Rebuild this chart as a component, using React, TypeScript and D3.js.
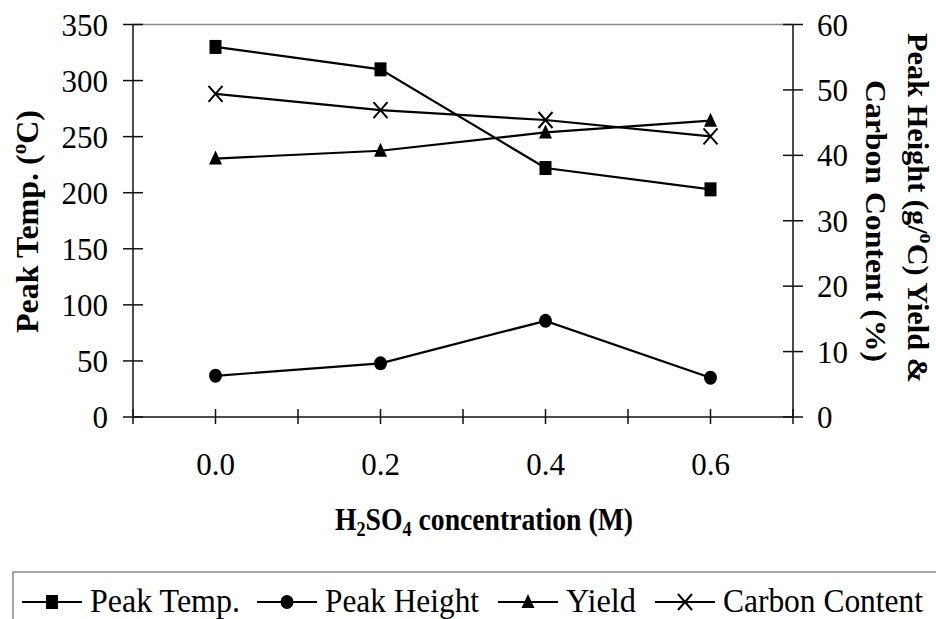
import React, { useEffect, useRef } from "react";
import * as d3 from "d3";

// values
const concentrations = [0.0, 0.2, 0.4, 0.6];
const peakTemp = [330, 310, 222, 203];
const peakHeight = [6.3, 8.2, 14.7, 6.0];
const yieldPct = [39.5, 40.7, 43.5, 45.3];
const carbonContent = [49.4, 46.9, 45.4, 42.9];

const leftTicks = [0, 50, 100, 150, 200, 250, 300, 350];
const rightTicks = [0, 10, 20, 30, 40, 50, 60];
const xTicks = [-0.1, 0, 0.1, 0.2, 0.3, 0.4, 0.5, 0.6, 0.7];
const xLabels = ["0.0", "0.2", "0.4", "0.6"];

const seriesNames = ["Peak Temp.", "Peak Height", "Yield", "Carbon Content"];
const seriesMarkers = ["square", "circle", "triangle", "cross"];

const FONT = "Liberation Serif";

const drawMarker = (g, type, cx, cy) => {
  if (type === "square") {
    g.append("rect")
      .attr("x", cx - 6)
      .attr("y", cy - 7)
      .attr("width", 12)
      .attr("height", 14)
      .attr("fill", "#000");
  } else if (type === "circle") {
    g.append("ellipse")
      .attr("cx", cx)
      .attr("cy", cy)
      .attr("rx", 6.5)
      .attr("ry", 7)
      .attr("fill", "#000");
  } else if (type === "triangle") {
    g.append("path")
      .attr("d", `M${cx},${cy - 8}L${cx + 6.5},${cy + 6}L${cx - 6.5},${cy + 6}Z`)
      .attr("fill", "#000");
  } else {
    g.append("path")
      .attr("d", `M${cx - 7},${cy - 8}L${cx + 7},${cy + 8}M${cx + 7},${cy - 8}L${cx - 7},${cy + 8}`)
      .attr("stroke", "#000")
      .attr("stroke-width", 2)
      .attr("fill", "none");
  }
};

const ComboChart = ({ width = 936, height = 619 }) => {
  const ref = useRef();

  useEffect(() => {
    d3.select(ref.current).selectAll("svg").remove();
    const svg = d3
      .select(ref.current)
      .append("svg")
      .attr("width", width)
      .attr("height", height)
      .attr("font-family", FONT)
      .style("display", "block");

    const x = d3.scaleLinear().domain([-0.1, 0.7]).range([133, 793]);
    const yLeft = d3.scaleLinear().domain([0, 350]).range([417, 24.5]);
    const yRight = d3.scaleLinear().domain([0, 60]).range([417, 24.5]);

    // top border of plot area
    svg.append("line")
      .attr("x1", x(-0.1)).attr("x2", x(0.7))
      .attr("y1", yLeft(350)).attr("y2", yLeft(350))
      .attr("stroke", "#888").attr("stroke-width", 1.5);

    const axes = svg.append("g").attr("stroke", "#111").attr("stroke-width", 1.5);
    // left axis
    axes.append("line").attr("x1", x(-0.1)).attr("x2", x(-0.1)).attr("y1", yLeft(0)).attr("y2", yLeft(350));
    leftTicks.forEach((t) => {
      axes.append("line").attr("x1", x(-0.1) - 10).attr("x2", x(-0.1) + 10).attr("y1", yLeft(t)).attr("y2", yLeft(t));
    });
    // right axis
    axes.append("line").attr("x1", x(0.7)).attr("x2", x(0.7)).attr("y1", yRight(0)).attr("y2", yRight(60));
    rightTicks.forEach((t) => {
      axes.append("line").attr("x1", x(0.7) - 10).attr("x2", x(0.7) + 10).attr("y1", yRight(t)).attr("y2", yRight(t));
    });
    // x axis
    axes.append("line").attr("x1", x(-0.1)).attr("x2", x(0.7)).attr("y1", yLeft(0)).attr("y2", yLeft(0));
    xTicks.forEach((t) => {
      axes.append("line").attr("x1", x(t)).attr("x2", x(t)).attr("y1", yLeft(0) - 8).attr("y2", yLeft(0) + 7);
    });

    // tick labels
    svg.append("g")
      .selectAll("text")
      .data(leftTicks)
      .enter()
      .append("text")
      .attr("font-family", FONT)
      .attr("x", 108)
      .attr("y", (d) => yLeft(d) + 11)
      .attr("text-anchor", "end")
      .attr("font-size", 31)
      .text((d) => d);

    svg.append("g")
      .selectAll("text")
      .data(rightTicks)
      .enter()
      .append("text")
      .attr("font-family", FONT)
      .attr("x", 817)
      .attr("y", (d) => yRight(d) + 11)
      .attr("font-size", 31)
      .text((d) => d);

    svg.append("g")
      .selectAll("text")
      .data(concentrations)
      .enter()
      .append("text")
      .attr("font-family", FONT)
      .attr("x", (d) => x(d))
      .attr("y", 475)
      .attr("text-anchor", "middle")
      .attr("font-size", 31)
      .text((d, i) => xLabels[i]);

    // axis titles
    const xt = svg.append("text")
      .attr("font-family", FONT)
      .attr("x", 335).attr("y", 530)
      .attr("font-size", 32).attr("font-weight", "bold")
      .attr("textLength", 298).attr("lengthAdjust", "spacingAndGlyphs");
    xt.append("tspan").text("H");
    xt.append("tspan").attr("font-size", 21).attr("dy", 6).text("2");
    xt.append("tspan").attr("dy", -6).text("SO");
    xt.append("tspan").attr("font-size", 21).attr("dy", 6).text("4");
    xt.append("tspan").attr("dy", -6).text(" concentration (M)");

    const lt = svg.append("text")
      .attr("font-family", FONT)
      .attr("transform", "translate(38,333) rotate(-90)")
      .attr("font-size", 32).attr("font-weight", "bold")
      .attr("textLength", 223).attr("lengthAdjust", "spacingAndGlyphs");
    lt.append("tspan").text("Peak Temp. (");
    lt.append("tspan").attr("font-size", 21).attr("dy", -12).text("o");
    lt.append("tspan").attr("dy", 12).text("C)");

    const rt1 = svg.append("text")
      .attr("font-family", FONT)
      .attr("transform", "translate(908,33) rotate(90)")
      .attr("font-size", 30).attr("font-weight", "bold")
      .attr("textLength", 350).attr("lengthAdjust", "spacingAndGlyphs");
    rt1.append("tspan").text("Peak Height (g/");
    rt1.append("tspan").attr("font-size", 20).attr("dy", -12).text("o");
    rt1.append("tspan").attr("dy", 12).text("C) Yield &");

    svg.append("text")
      .attr("font-family", FONT)
      .attr("transform", "translate(866,80) rotate(90)")
      .attr("font-size", 30).attr("font-weight", "bold")
      .attr("textLength", 282).attr("lengthAdjust", "spacingAndGlyphs")
      .text("Carbon Content (%)");

    // series
    const series = [
      { values: peakTemp, y: yLeft },
      { values: peakHeight, y: yRight },
      { values: yieldPct, y: yRight },
      { values: carbonContent, y: yRight },
    ];
    series.forEach((s, si) => {
      const line = d3
        .line()
        .x((d, i) => x(concentrations[i]))
        .y((d) => s.y(d));
      svg.append("path")
        .attr("d", line(s.values))
        .attr("fill", "none")
        .attr("stroke", "#000")
        .attr("stroke-width", 2.2);
      const mg = svg.append("g");
      s.values.forEach((v, i) => drawMarker(mg, seriesMarkers[si], x(concentrations[i]), s.y(v)));
    });

    // legend
    svg.append("rect")
      .attr("x", 13).attr("y", 572)
      .attr("width", 1000).attr("height", 100)
      .attr("fill", "none").attr("stroke", "#888").attr("stroke-width", 1.5);

    const legendX = [22, 257, 498, 655];
    const legendTextW = [150, 154, 70, 200];
    seriesNames.forEach((name, i) => {
      const lx = legendX[i];
      const lg = svg.append("g");
      lg.append("line")
        .attr("x1", lx).attr("x2", lx + 60)
        .attr("y1", 602).attr("y2", 602)
        .attr("stroke", "#000").attr("stroke-width", 2.2);
      drawMarker(lg, seriesMarkers[i], lx + 30, 602);
      lg.append("text")
        .attr("font-family", FONT)
        .attr("x", lx + 68).attr("y", 612)
        .attr("font-size", 33)
        .attr("textLength", legendTextW[i]).attr("lengthAdjust", "spacingAndGlyphs")
        .text(name);
    });
  }, [width, height]);

  return <div ref={ref} style={{ position: "absolute", left: 0, top: 0 }}></div>;
};

export default function App() {
  return <ComboChart />;
}
